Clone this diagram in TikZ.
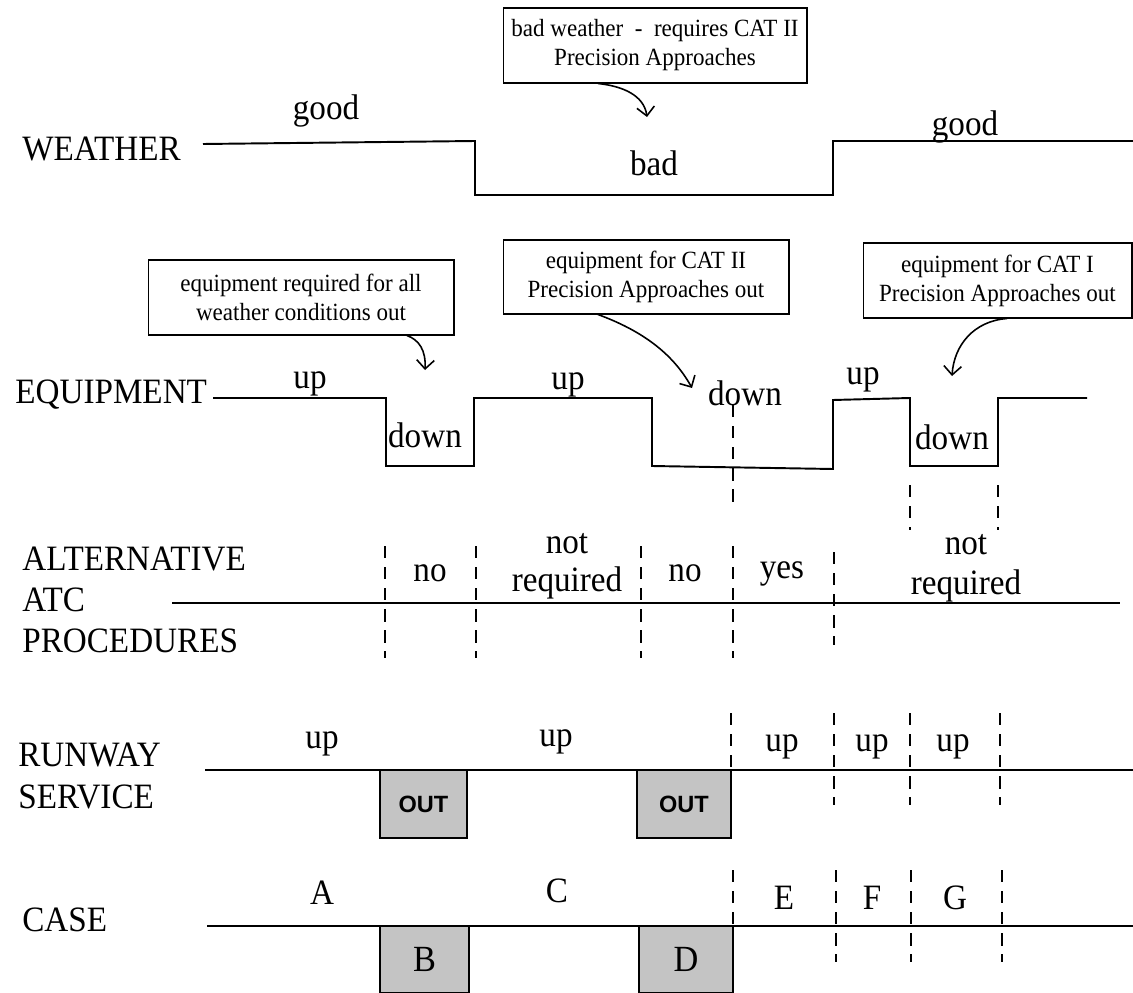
\documentclass[tikz,border=0pt]{standalone}
\usepackage{fontspec}
\setmainfont{Liberation Serif}[FakeStretch=0.93]
\newfontfamily\outfont{Liberation Sans}
\usetikzlibrary{arrows.meta}

\tikzset{
  sig/.style={line width=1.1pt},
  cut/.style={line width=1.1pt, dash pattern=on 7pt off 5pt},
  note/.style={draw, line width=0.6pt, align=center, inner sep=0pt, font=\fontsize{14.1}{16.5}\selectfont},
  val/.style={font=\fontsize{20.3}{22}\selectfont, align=center, inner sep=0pt},
  row/.style={font=\fontsize{20.3}{23.5}\selectfont, align=left, anchor=west, inner sep=0pt},
  outbox/.style={draw, line width=0.6pt, fill=black!23, inner sep=0pt},
  callout/.style={line width=0.9pt, -{Straight Barb[length=5pt,width=10pt]}},
}

\begin{document}
\begin{tikzpicture}[x=0.02cm, y=-0.02cm]
    \path[use as bounding box, fill=white] (0,0) rectangle (1133,993);

    % row labels
    \node[row] (weather) at (22,149) {WEATHER};
    \node[row] (equip) at (15,395) {EQUIPMENT};
    \node[row] (atc) at (22,600) {ALTERNATIVE\\ATC\\PROCEDURES};
    \node[row] (runway) at (18,776) {RUNWAY\\SERVICE};
    \node[row] (case) at (22,920) {CASE};

    % weather
    \draw[sig] (203,144) -- (475,141) -- (475,195) -- (833,195) -- (833,141) -- (1133,141);
    \node[val] (wgood) at (326,111) {good};
    \node[val] (wbad) at (654,163) {bad};
    \node[val] (wgoodb) at (965,127) {good};
    \node[note, minimum width=6.08cm, minimum height=1.5cm] (wxnote) at (655,45.5) {bad weather~ -~ requires CAT II\\Precision Approaches};
    \coordinate (wxtip) at (647,117);
    \draw[callout] (wxnote.south -| 598,0) .. controls (622,86) and (644,95) .. (wxtip);

    % equipment
    \draw[sig] (213,398) -- (386,398) -- (386,466) -- (474,466) -- (474,398) -- (652,398) -- (652,466) -- (833,469)
        -- (833,400) -- (910,398) -- (910,466) -- (998,466) -- (998,398) -- (1087,398);
    \node[val] (eup) at (310,384) {up};
    \node[val] (edown) at (425,435) {down};
    \node[val] (eupb) at (568,385) {up};
    \node[val] (edownb) at (745,393) {down};
    \node[val] (eupc) at (863,380) {up};
    \node[val] (edownc) at (952,437) {down};
    \node[note, minimum width=6.12cm, minimum height=1.5cm] (allnote) at (301,297.5) {equipment required for all\\weather conditions out};
    \node[note, minimum width=5.72cm, minimum height=1.48cm] (catiinote) at (646,277) {equipment for CAT II\\Precision Approaches out};
    \node[note, minimum width=5.38cm, minimum height=1.5cm] (catinote) at (997.5,280.5) {equipment for CAT I\\Precision Approaches out};
    \coordinate (alltip) at (425,370);
    \coordinate (catiitip) at (692,388);
    \coordinate (catitip) at (952,376);
    \draw[callout] (allnote.south -| 407,0) .. controls (419,340) and (426,350) .. (alltip);
    \draw[callout] (catiinote.south -| 598,0) .. controls (640,330) and (672,352) .. (catiitip);
    \draw[callout] (catinote.south -| 1007,0) .. controls (974,321) and (954,345) .. (catitip);
    \draw[cut] (733,405) -- (733,505);
    \foreach \x in {910,998} \draw[cut] (\x,485) -- (\x,530);

    % alternative ATC procedures
    \draw[sig] (172,603) -- (1120,603);
    \foreach \x in {385,476,641,733} \draw[cut] (\x,546) -- (\x,658);
    \draw[cut] (834,552) -- (834,645);
    \node[val] (ano) at (430,573) {no};
    \node[val, font=\fontsize{20.3}{21.5}\selectfont] (anreq) at (567,566) {not\\required};
    \node[val] (anob) at (685,573) {no};
    \node[val] (ayes) at (782,574) {yes};
    \node[val, font=\fontsize{20.3}{23}\selectfont] (anreqb) at (966,568) {not\\required};

    % runway service
    \draw[sig] (205,770) -- (1133,770);
    \node[outbox, minimum width=1.74cm, minimum height=1.36cm, font=\outfont\bfseries\fontsize{13.4}{15}\selectfont] (rout) at (423.5,804) {OUT};
    \node[outbox, minimum width=1.88cm, minimum height=1.36cm, font=\outfont\bfseries\fontsize{13.4}{15}\selectfont] (routb) at (684,804) {OUT};
    \node[val] (rup) at (322,744) {up};
    \node[val] (rupb) at (556,742) {up};
    \node[val] (rupc) at (782,747) {up};
    \node[val] (rupd) at (872,747) {up};
    \node[val] (rupe) at (953,747) {up};
    \draw[cut] (731,713) -- (731,838);
    \foreach \x in {834,910,1000} \draw[cut] (\x,713) -- (\x,805);

    % case
    \draw[sig] (207,926) -- (1133,926);
    \node[outbox, minimum width=1.78cm, minimum height=1.34cm, font=\fontsize{21}{22}\selectfont] (cb) at (424.5,959.5) {B};
    \node[outbox, minimum width=1.88cm, minimum height=1.34cm, font=\fontsize{21}{22}\selectfont] (cd) at (686,959.5) {D};
    \node[val] (ca) at (322,893) {A};
    \node[val] (cc) at (557,891) {C};
    \node[val] (ce) at (784,898) {E};
    \node[val] (cf) at (872,898) {F};
    \node[val] (cg) at (955,898) {G};
    \draw[cut] (733,870) -- (733,993);
    \foreach \x in {836,911,1002} \draw[cut] (\x,870) -- (\x,962);
\end{tikzpicture}
\end{document}
